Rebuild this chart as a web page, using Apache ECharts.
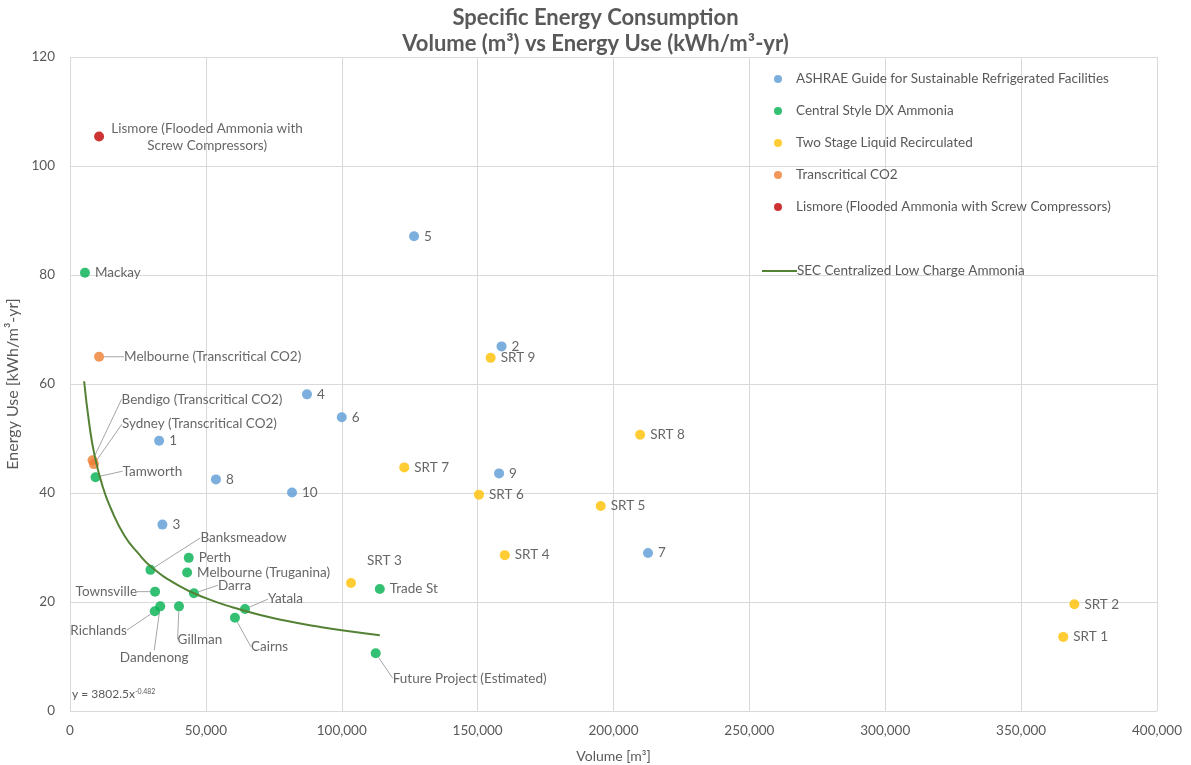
<!DOCTYPE html>
<html>
<head>
<meta charset="utf-8">
<script src="https://cdn.jsdelivr.net/npm/echarts@6/dist/echarts.min.js"></script>
<style>
  html, body { margin: 0; padding: 0; background: #fff; }
  #chart { width: 1191px; height: 765px; }
</style>
</head>
<body>
<div id="chart"></div>
<script>
// ASHRAE guide points
const ashraeNames = ['1', '2', '3', '4', '5', '6', '7', '8', '9', '10'];
const ashraeVol = [32800, 158800, 34000, 87200, 126600, 100000, 212700, 53700, 157900, 81700];
const ashraeUse = [49.6, 66.9, 34.2, 58.1, 87.1, 53.9, 29.0, 42.5, 43.6, 40.1];

// central style DX ammonia
const dxNames = ['Mackay', 'Tamworth', 'Banksmeadow', 'Perth', 'Melbourne (Truganina)', 'Darra',
  'Townsville', 'Dandenong', 'Richlands', 'Gillman', 'Yatala', 'Cairns', 'Trade St', 'Future Project (Estimated)'];
const dxVol = [5500, 9400, 29600, 43700, 43100, 45600, 31300, 33200, 31200, 40100, 64400, 60700, 114000, 112500];
const dxUse = [80.4, 42.9, 25.9, 28.1, 25.4, 21.6, 21.9, 19.2, 18.3, 19.2, 18.7, 17.1, 22.4, 10.6];

// two stage liquid recirculated
const srtNames = ['SRT 1', 'SRT 2', 'SRT 3', 'SRT 4', 'SRT 5', 'SRT 6', 'SRT 7', 'SRT 8', 'SRT 9'];
const srtVol = [365500, 369600, 103400, 160000, 195300, 150500, 123000, 209800, 154800];
const srtUse = [13.6, 19.6, 23.5, 28.6, 37.6, 39.7, 44.7, 50.7, 64.8];

// transcritical CO2
const co2Names = ['Melbourne (Transcritical CO2)', 'Bendigo (Transcritical CO2)', 'Sydney (Transcritical CO2)'];
const co2Vol = [10700, 8300, 8800];
const co2Use = [65.0, 46.0, 45.3];

// lismore
const lisNames = ['Lismore (Flooded Ammonia with\nScrew Compressors)'];
const lisVol = [10700];
const lisUse = [105.4];

// SEC trend curve
const trendVol = [5200, 7000, 9000, 12000, 15000, 20000, 25000, 30000, 40000, 50000, 60000, 70000, 80000, 90000, 100000, 114000];
const trendUse = [60.5, 53.0, 47.0, 41.2, 37.2, 32.2, 29.0, 26.4, 23.0, 20.7, 19.0, 17.6, 16.5, 15.6, 14.8, 13.9];

const xTicks = [0, 50000, 100000, 150000, 200000, 250000, 300000, 350000, 400000];

// label placement tweaks (pixels) with a leader line, keyed by point name
const labelMove = {
  'Tamworth': [17, -6],
  'Banksmeadow': [40, -32],
  'Darra': [14, -8],
  'Townsville': [-8, 0],
  'Richlands': [-18, 19],
  'Dandenong': [-6, 34],
  'Gillman': [21, 16],
  'Yatala': [13, -10],
  'Cairns': [6, 29],
  'Future Project (Estimated)': [7, 25],
  'Melbourne (Transcritical CO2)': [15, 0],
  'Bendigo (Transcritical CO2)': [19, -61],
  'Sydney (Transcritical CO2)': [18, -40]
};
// shifts without a leader line
const labelShift = {
  'SRT 3': [6, -22],
  'Lismore (Flooded Ammonia with\nScrew Compressors)': [98, 1]
};
const labelSide = { 'Townsville': 'left', 'Richlands': 'left', 'Dandenong': 'bottom', 'Gillman': 'bottom' };

const font = 'Lato, "Open Sans", sans-serif';

function buildData(names, xs, ys) {
  return names.map(function (n, i) {
    const item = { name: n, value: [xs[i], ys[i]] };
    if (labelMove[n]) item.labelLine = { show: true };
    if (labelSide[n]) item.label = { position: labelSide[n] };
    if (n.indexOf('Lismore') === 0) item.label = { align: 'center', lineHeight: 17 };
    return item;
  });
}

function scatter(name, color, names, xs, ys) {
  return {
    name: name,
    type: 'scatter',
    symbolSize: 10,
    itemStyle: { color: color },
    data: buildData(names, xs, ys),
    label: {
      show: true,
      position: 'right',
      formatter: '{b}',
      color: '#404040',
      fontSize: 13.5,
      fontFamily: font
    },
    labelLine: { show: false, lineStyle: { color: '#a6a6a6', width: 1 } },
    labelLayout: function (params) {
      const n = names[params.dataIndex];
      const m = labelMove[n] || labelShift[n];
      if (!m) return {};
      return { dx: m[0], dy: m[1] };
    },
    z: 3
  };
}

const chart = echarts.init(document.getElementById('chart'));
const option = {
  animation: false,
  backgroundColor: '#fff',
  textStyle: { fontFamily: font },
  title: {
    text: 'Specific Energy Consumption\nVolume (m\u00b3) vs Energy Use (kWh/m\u00b3-yr)',
    left: 'center',
    top: 0,
    textStyle: { fontSize: 22, fontWeight: 'bold', color: '#595959', lineHeight: 26, fontFamily: font }
  },
  grid: { left: 70, right: 34, top: 57, bottom: 54, outerBoundsMode: 'none' },
  legend: [
    {
      orient: 'vertical',
      left: 769,
      top: 67,
      itemWidth: 26,
      itemHeight: 8,
      itemGap: 18,
      icon: 'circle',
      textStyle: { fontSize: 13.5, color: '#595959', fontFamily: font },
      data: ['ASHRAE Guide for Sustainable Refrigerated Facilities', 'Central Style DX Ammonia',
        'Two Stage Liquid Recirculated', 'Transcritical CO2', 'Lismore (Flooded Ammonia with Screw Compressors)']
    },
    {
      left: 757,
      top: 259,
      itemWidth: 35,
      itemHeight: 2,
      icon: 'rect',
      textStyle: { fontSize: 13.5, color: '#595959', fontFamily: font, padding: [0, 0, 0, -5] },
      data: ['SEC Centralized Low Charge Ammonia']
    }
  ],
  xAxis: {
    type: 'value',
    min: 0,
    max: 400000,
    interval: 50000,
    name: 'Volume [m\u00b3]',
    nameLocation: 'middle',
    nameGap: 38,
    nameTextStyle: { fontSize: 14, color: '#595959' },
    axisLine: { show: false },
    axisTick: { show: false },
    axisLabel: {
      fontSize: 13.5,
      color: '#595959',
      margin: 13,
      formatter: function (v) { return xTicks.indexOf(v) >= 0 ? v.toLocaleString('en-US') : ''; }
    },
    splitLine: { lineStyle: { color: '#d9d9d9' } }
  },
  yAxis: {
    type: 'value',
    min: 0,
    max: 120,
    interval: 20,
    name: 'Energy Use [kWh/m\u00b3-yr]',
    nameLocation: 'middle',
    nameGap: 44,
    nameTextStyle: { fontSize: 16, color: '#595959' },
    axisLine: { show: false },
    axisTick: { show: false },
    axisLabel: { fontSize: 13.5, color: '#595959', margin: 15 },
    splitLine: { lineStyle: { color: '#d9d9d9' } }
  },
  graphic: [
    {
      type: 'text',
      left: 72,
      top: 688,
      style: {
        text: '{a|y = 3802.5x}{s|-0.482}',
        rich: {
          a: { fontSize: 12, fill: '#595959', fontFamily: font },
          s: { fontSize: 7, fill: '#595959', fontFamily: font, verticalAlign: 'top', padding: [0, 0, 6, 0] }
        }
      }
    }
  ],
  series: [
    scatter('ASHRAE Guide for Sustainable Refrigerated Facilities', '#5b9bd5', ashraeNames, ashraeVol, ashraeUse),
    scatter('Central Style DX Ammonia', '#00b050', dxNames, dxVol, dxUse),
    scatter('Two Stage Liquid Recirculated', '#ffc000', srtNames, srtVol, srtUse),
    scatter('Transcritical CO2', '#ed7d31', co2Names, co2Vol, co2Use),
    scatter('Lismore (Flooded Ammonia with Screw Compressors)', '#c00000', lisNames, lisVol, lisUse),
    {
      name: 'SEC Centralized Low Charge Ammonia',
      type: 'line',
      smooth: true,
      showSymbol: false,
      lineStyle: { color: '#548235', width: 2 },
      itemStyle: { color: '#548235' },
      data: trendVol.map(function (v, i) { return [v, trendUse[i]]; }),
      z: 4
    }
  ]
};
chart.setOption(option);
</script>
</body>
</html>
